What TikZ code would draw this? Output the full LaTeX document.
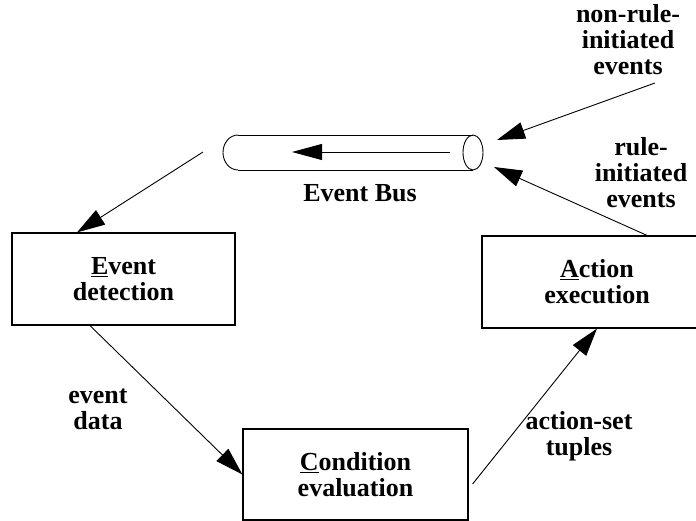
\documentclass[tikz,border=0pt]{standalone}
\usepackage{fontspec}
\setmainfont{Liberation Serif}
\usetikzlibrary{arrows.meta,calc}

\tikzset{
  lbl/.style={font=\fontsize{26}{26}\selectfont\bfseries, align=center, inner sep=0pt},
  stage/.style={lbl, draw, line width=1.2pt, minimum width=#1, minimum height=92pt},
  link/.style={line width=0.9pt, -{Triangle[length=28pt,width=17pt]}},
  outline/.style={line width=0.9pt}
}

\begin{document}
\begin{tikzpicture}[x=1pt,y=-1pt]
  \useasboundingbox (0,0) rectangle (696,521);
  \clip (0,0) rectangle (696,521);

  % processing stages
  \node[stage=223pt] (det)  at (123.5,279) {\underline{E}vent\\detection};
  \node[stage=230pt] (act)  at (597,282)   {\underline{A}ction\\execution};
  \node[stage=225pt, minimum height=91pt] (cond) at (355.5,474.5) {\underline{C}ondition\\evaluation};

  % event bus drawn as a pipe
  \draw[outline] (238,135) -- (473,135);
  \draw[outline] (238,170) -- (473,170);
  \draw[outline] (238,135) arc[start angle=90, end angle=270, x radius=15pt, y radius=17.5pt];
  \draw[outline] (473,152.5) ellipse [x radius=10pt, y radius=17.5pt];
  \coordinate (flowstart) at (450,152);
  \coordinate (flowend)   at (292,152);
  \draw[link, -{Triangle[length=30pt,width=16pt]}] (flowstart) -- (flowend);
  \node[lbl, anchor=base] (buslabel) at (360,202) {Event Bus};

  % connection points near the ends of the bus
  \coordinate (busout) at (203,152);
  \coordinate (busin1) at (497,140);
  \coordinate (busin2) at (494,167);
  \coordinate (extsrc) at (655,83);

  % cycle of connectors
  \draw[link] (busout) -- ([xshift=-46.5pt]det.north);
  \draw[link] ([xshift=-33.5pt]det.south) -- (cond.west);
  \draw[link] ([xshift=4pt,yshift=-9.5pt]cond.east) -- (act.south);
  \draw[link] ([xshift=50pt]act.north) -- (busin2);
  \draw[link] (extsrc) -- (busin1);

  % connector labels
  \node[lbl] (lblext)   at (628,40)    {non-rule-\\initiated\\events};
  \node[lbl] (lblrule)  at (641,173)   {rule-\\initiated\\events};
  \node[lbl] (lbldata)  at (98,409.5)  {event\\data};
  \node[lbl] (lbltuple) at (579,436)   {action-set\\tuples};
\end{tikzpicture}
\end{document}
